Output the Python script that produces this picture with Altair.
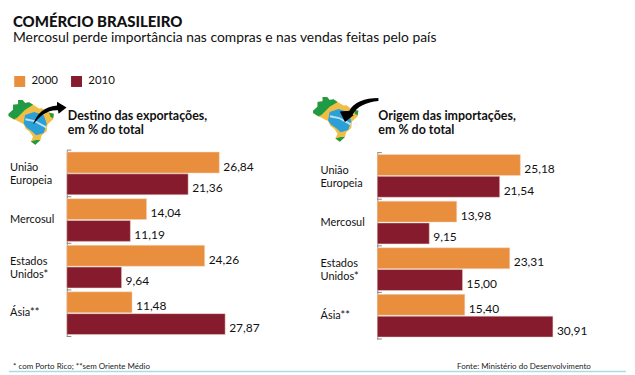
import altair as alt
import pandas as pd

categories = ["União Europeia", "Mercosul", "Estados Unidos*", "Ásia**"]
years = ["2000", "2010"]
exports_2000 = [26.84, 14.04, 24.26, 11.48]
exports_2010 = [21.36, 11.19, 9.64, 27.87]
imports_2000 = [25.18, 13.98, 23.31, 15.40]
imports_2010 = [21.54, 9.15, 15.00, 30.91]

ORANGE, MAROON = "#E98E3C", "#851B2C"
FONT = "Lato"
PX_UNIT = 50.0  # custom symbol scale: size 10000 -> 50 px per path unit


def path(points):
    """Outline from zoomed icon tracing (3x pixels) to a unit symbol path."""
    out = []
    for i, p in enumerate(points):
        if len(p) == 2:
            out.append(("M" if i == 0 else "L") + f"{p[0]/3/PX_UNIT:.3f},{p[1]/3/PX_UNIT:.3f}")
        else:
            out.append("C" + " ".join(f"{p[j]/3/PX_UNIT:.3f},{p[j+1]/3/PX_UNIT:.3f}" for j in (0, 2, 4)))
    return "".join(out) + "Z"


# outlines relative to the icon anchor, in 3x pixels
OUT = [(8, 58), (22, 45), (22, 30), (38, 28), (38, 15), (52, 15), (60, 24), (72, 22), (85, 30), (105, 42),
       (112, 40), (125, 50), (150, 58), (148, 75), (130, 92), (128, 112), (112, 125), (108, 140), (92, 155),
       (78, 145), (85, 130), (75, 115), (62, 105), (55, 90), (45, 85), (32, 78), (22, 75), (8, 65)]
GREEN_N = [(8, 58), (22, 45), (22, 30), (38, 28), (38, 15), (52, 15), (60, 24), (72, 22), (85, 30), (60, 45),
           (35, 70), (25, 75), (8, 65)]
GREEN_S = [(78, 145), (95, 140), (108, 140), (92, 155)]
GREEN_E = [(135, 55), (150, 58), (148, 72), (140, 68)]
BLUE = [(55, 88), (60, 62), (88, 52), (118, 62), (128, 90), (118, 118), (95, 125), (80, 112), (65, 102)]
STREAK = [(62, 72), (90, 78), (128, 98), (126, 104), (90, 84), (60, 78)]
ARROW_OUT = [(85, 92), (95, 60, 120, 35, 160, 32), (160, 20), (190, 38), (165, 58), (163, 47),
             (130, 45, 105, 65, 85, 92)]
ARROW_IN = [(213, 18), (170, 18, 135, 32, 122, 58), (92, 60), (108, 93), (135, 72), (132, 70),
            (145, 45, 175, 30, 213, 27)]


def icon(parts, left, top):
    layers = []
    for pts, color in parts:
        layers.append(
            alt.Chart(pd.DataFrame({"i": [0]}))
            .mark_point(shape=path(pts), size=9200, filled=True, fill=color, stroke=None, opacity=1)
            .encode(x=alt.value(left), y=alt.value(top))
        )
    return layers


def panel(v2000, v2010, title_lines, y_range, arrow, left, top, footer, footer_x):
    df = pd.DataFrame(
        {
            "cat": categories * 2,
            "year": [years[0]] * 4 + [years[1]] * 4,
            "v": list(v2000) + list(v2010),
        }
    )
    yscale = alt.Scale(domain=categories, range=y_range, paddingInner=0, paddingOuter=0)
    xscale = alt.Scale(domain=[0, 35])
    y = alt.Y(
        "cat:N",
        sort=categories,
        title=None,
        scale=yscale,
        axis=alt.Axis(
            ticks=False,
            domainColor="#888888",
            domainWidth=1,
            labelExpr="split(datum.label, ' ')",
            labelAlign="left",
            labelPadding=57.5,
            labelFont=FONT,
            labelFontSize=11,
            labelColor="#111111",
            labelLineHeight=13,
            labelOffset={"condition": {"test": "indexof(datum.value, ' ') >= 0", "value": -5}, "value": 0},
            grid=False,
        ),
    )
    x = alt.X("v:Q", title=None, axis=None, scale=xscale)
    yoff = alt.YOffset("year:N", sort=years, scale=alt.Scale(paddingInner=0.04, paddingOuter=0.09))
    color = alt.Color(
        "year:N",
        sort=years,
        scale=alt.Scale(domain=years, range=[ORANGE, MAROON]),
        legend=alt.Legend(
            orient="none", legendX=-53, legendY=-75, direction="horizontal", title=None,
            symbolType="square", symbolSize=121, symbolStrokeWidth=0, symbolOpacity=1,
            labelFont=FONT, labelFontSize=11.5, labelColor="#111111", columnPadding=12, labelOffset=6,
        ),
    )
    base = alt.Chart(df)
    bars = base.mark_bar(size=21, opacity=1, stroke="#f3d9c8", strokeWidth=0.5).encode(x=x, y=y, yOffset=yoff, color=color)
    labels = (
        base.transform_calculate(lbl="replace(format(datum.v, '.2f'), '.', ',')")
        .mark_text(align="left", baseline="middle", dx=4, dy=4, font=FONT, fontSize=12, color="#111111")
        .encode(x=x, y=y, yOffset=yoff, text="lbl:N")
    )
    rules = []
    for cats, pos in ((categories, 0), (categories[-1:], 1)):
        rules.append(
            alt.Chart(pd.DataFrame({"cat": cats})).mark_rule(color="#888888", strokeWidth=1).encode(
                y=alt.Y("cat:N", sort=categories, bandPosition=pos, title=None, scale=yscale),
                x=alt.datum(0, scale=xscale), x2=alt.datum(0.8),
            )
        )
    head = (
        alt.Chart(pd.DataFrame({"i": [0]}))
        .mark_text(text=title_lines, align="left", baseline="top", font=FONT, fontSize=12.5, fontWeight=700,
                   lineHeight=14, color="#111111")
        .encode(x=alt.value(1), y=alt.value(-40.5))
    )
    foot = (
        alt.Chart(pd.DataFrame({"i": [0]}))
        .mark_text(text=footer, align="left", baseline="middle", font=FONT, fontSize=8, color="#222222")
        .encode(x=alt.value(footer_x), y=alt.value(218))
    )
    parts = [(OUT, "#F0BE45"), (GREEN_N, "#1F9A45"), (GREEN_S, "#1F9A45"), (GREEN_E, "#1F9A45"),
             (BLUE, "#2A9FD8"), (STREAK, "#BFE3F2"), (arrow, "#000000")]
    return alt.layer(bars, labels, *rules, head, foot, *icon(parts, left, top)).properties(width=199.5, height=190)


left = panel(exports_2000, exports_2010, ["Destino das exportações,", "em % do total"], [0, 187], ARROW_OUT,
             -61, -55, "* com Porto Rico; **sem Oriente Médio", -54)
rule_bottom = (
    alt.Chart(pd.DataFrame({"i": [0]}))
    .mark_rule(color="#A8DDE8", strokeWidth=1.5)
    .encode(x=alt.value(-58), x2=alt.value(561), y=alt.value(222))
)
left = alt.layer(left, rule_bottom)
right = panel(imports_2000, imports_2010, ["Origem das importações,", "em % do total"], [2.5, 189.5], ARROW_IN,
              -67, -58, "Fonte: Ministério do Desenvolvimento", 80)

chart = (
    alt.hconcat(left, right, spacing=111.5, bounds="flush")
    .resolve_scale(color="shared")
    .properties(
        title=alt.TitleParams(
            text="COMÉRCIO BRASILEIRO",
            subtitle="Mercosul perde importância nas compras e nas vendas feitas pelo país",
            anchor="start", frame="group", dx=-54, offset=31,
            font=FONT, fontSize=15, fontWeight=900, color="#111111",
            subtitleFont=FONT, subtitleFontSize=13.9, subtitleColor="#111111", subtitlePadding=1,
        ),
        padding={"left": 0, "top": 6, "right": 0, "bottom": 0},
    )
    .configure_view(stroke=None)
)

chart.save("out.html", embed_options={"renderer": "svg", "actions": False})
